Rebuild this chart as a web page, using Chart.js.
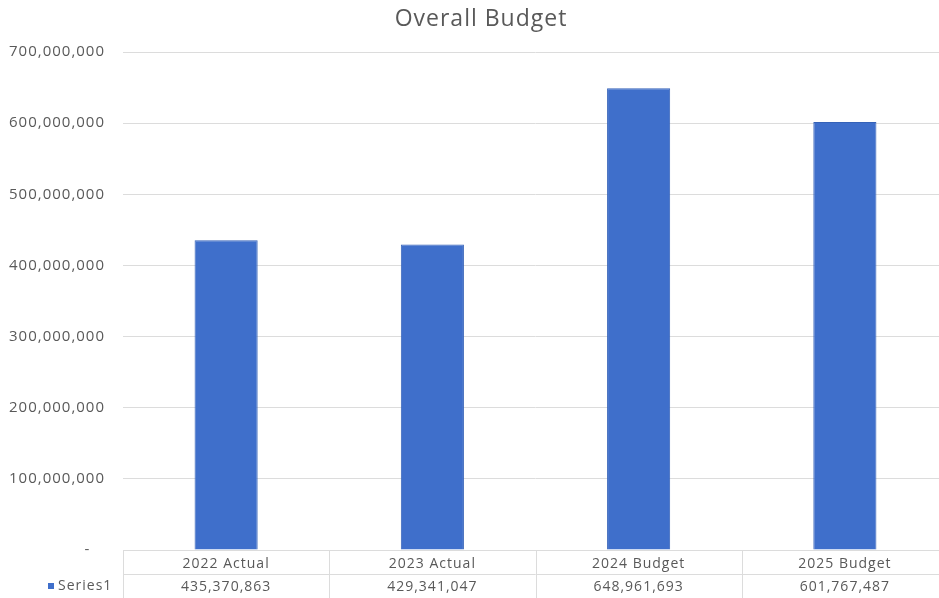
<!DOCTYPE html>
<html lang="en">
<head>
    <meta charset="UTF-8">
    <title>Overall Budget</title>
    <script src="https://cdn.jsdelivr.net/npm/chart.js"></script>
    <style>
        html, body {
            margin: 0;
            padding: 0;
            background: #ffffff;
            overflow: hidden;
        }
        #wrap {
            width: 948px;
            height: 598px;
        }
    </style>
</head>
<body>
    <div id="wrap"><canvas id="budgetChart"></canvas></div>
    <script>
        const categories = ['2022 Actual', '2023 Actual', '2024 Budget', '2025 Budget'];
        const series1 = [435370863, 429341047, 648961693, 601767487];
        const seriesName = 'Series1';
        const chartTitle = 'Overall Budget';
        const yTicks = [0, 100000000, 200000000, 300000000, 400000000, 500000000, 600000000, 700000000];

        const barColor = '#3F6FCB';
        const textColor = '#595959';
        const lineColor = '#dcdcdc';
        const fmt = v => String(v).replace(/\B(?=(\d{3})+(?!\d))/g, ',');

        // slightly wider lettering, like the spreadsheet font
        const spacing = {
            id: 'spacing',
            beforeUpdate(chart) { chart.ctx.letterSpacing = '1px'; },
            beforeDraw(chart) { chart.ctx.letterSpacing = '1px'; }
        };

        // title, data table grid and the series key under the axis
        const dataTable = {
            id: 'dataTable',
            afterDraw(chart) {
                const ctx = chart.ctx;
                const area = chart.chartArea;
                const x = chart.scales.x;
                const bottom = chart.height;
                const half = (x.getPixelForValue(1) - x.getPixelForValue(0)) / 2;
                ctx.save();
                ctx.strokeStyle = lineColor;
                ctx.lineWidth = 1;
                ctx.beginPath();
                for (let i = 0; i <= categories.length; i++) {
                    const px = Math.round(x.getPixelForValue(0) - half + i * half * 2) + 0.5;
                    ctx.moveTo(px, area.bottom);
                    ctx.lineTo(px, bottom);
                }
                ctx.moveTo(area.left, area.bottom + 24.5);
                ctx.lineTo(area.right, area.bottom + 24.5);
                ctx.stroke();

                // series key in the left column
                const rowY = area.bottom + 36;
                ctx.fillStyle = barColor;
                ctx.fillRect(48, rowY - 3, 6, 6);
                ctx.fillStyle = textColor;
                ctx.letterSpacing = '1px';
                ctx.font = '14px "Open Sans"';
                ctx.textAlign = 'left';
                ctx.textBaseline = 'middle';
                ctx.fillText(seriesName, 58, rowY);

                ctx.letterSpacing = '1px';
                ctx.font = '23px "Open Sans"';
                ctx.textAlign = 'center';
                ctx.fillText(chartTitle, 481, 19);
                ctx.restore();
            }
        };

        new Chart(document.getElementById('budgetChart'), {
            type: 'bar',
            data: {
                labels: categories.map((c, i) => [c, fmt(series1[i])]),
                datasets: [{
                    label: seriesName,
                    data: series1,
                    backgroundColor: barColor,
                    borderColor: '#3562B8',
                    borderWidth: 1,
                    barPercentage: 0.306,
                    categoryPercentage: 1
                }]
            },
            options: {
                responsive: true,
                maintainAspectRatio: false,
                animation: false,
                layout: { padding: { top: 52 } },
                plugins: {
                    legend: { display: false },
                    tooltip: { enabled: false },
                    title: { display: false }
                },
                scales: {
                    x: {
                        afterFit(scale) { scale.height = 48; },
                        grid: { display: false },
                        border: { display: true, color: lineColor },
                        ticks: {
                            color: textColor,
                            padding: -5,
                            maxRotation: 0,
                            autoSkip: false,
                            font: { family: '"Open Sans"', size: 14, lineHeight: '23px' }
                        }
                    },
                    y: {
                        min: 0,
                        max: 700000000,
                        afterFit(scale) { scale.width = 123; },
                        afterBuildTicks(scale) { scale.ticks = yTicks.map(v => ({ value: v })); },
                        border: { display: false },
                        grid: { color: lineColor, drawTicks: false },
                        ticks: {
                            color: textColor,
                            padding: 18,
                            font: { family: '"Open Sans"', size: 15 },
                            callback: v => v === 0 ? '-   ' : fmt(v)
                        }
                    }
                }
            },
            plugins: [spacing, dataTable]
        });
    </script>
</body>
</html>
